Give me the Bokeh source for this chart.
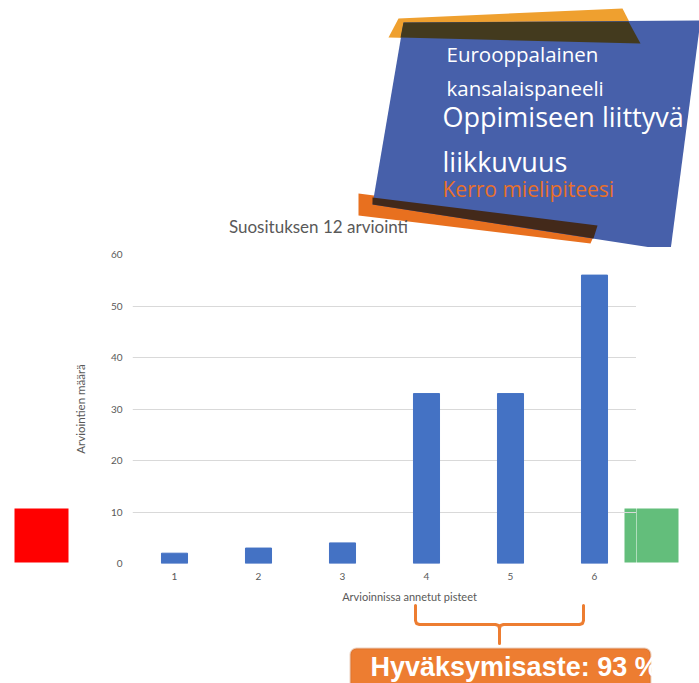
from bokeh.plotting import figure
from bokeh.layouts import column, row
from bokeh.models import BoxAnnotation, Range1d, FactorRange, FixedTicker
from bokeh.core.properties import value
from bokeh.embed import file_html
from bokeh.resources import INLINE

# ---------------- data ----------------
scores = ["1", "2", "3", "4", "5", "6"]
counts = [2, 3, 4, 33, 33, 56]
y_ticks = [0, 10, 20, 30, 40, 50, 60]
chart_title = "Suosituksen 12 arviointi"
x_title = "Arvioinnissa annetut pisteet"
y_title = "Arviointien määrä"
banner_lines = ["Eurooppalainen", "kansalaispaneeli", "Oppimiseen liittyvä", "liikkuvuus"]
banner_sub = "Kerro mielipiteesi"
acceptance = "Hyväksymisaste: 93 %"

FONT = "Lato"
BFONT = "Open Sans"
GREY = "#595959"
BLUE_BANNER = "#4760AA"
ORANGE_TOP = "#EFA02F"
ORANGE_BOT = "#E8701F"
BR = "#ED7D31"

# page regions (pixels)
W, H = 699, 683
TOP_H = 247          # banner + title strip
FRAME_T, FRAME_B = 254, 563   # plot area top / bottom on the page
MID_B = 590
MID_H = MID_B - TOP_H
LEFT_W = 70
RIGHT_W = 63
CHART_W = W - LEFT_W - RIGHT_W
BORDER_T = FRAME_T - TOP_H
BORDER_B = MID_B - FRAME_B


def panel(x0, x1, y0, y1, bt=0, bb=0):
    """A blank figure; data units = page pixels (y down)."""
    f = figure(width=x1 - x0, height=y1 - y0, x_range=Range1d(x0, x1),
               y_range=Range1d(y1 - bb, y0 + bt), output_backend="svg",
               toolbar_location=None, x_axis_type=None, y_axis_type=None,
               min_border=0, min_border_top=bt, min_border_bottom=bb, title=None)
    f.outline_line_color = None
    f.xgrid.visible = False
    f.ygrid.visible = False
    f.background_fill_color = "white"
    return f


def shape(f, pts, color):
    f.patch([a for a, b in pts], [b for a, b in pts], fill_color=color,
            line_color=None)


def txt(f, x, base, s, size, color, font=FONT, align="left", style="normal"):
    # place the text so that its visual baseline lands on `base`
    f.text(x=[x], y=[base - 0.44 * size], text=[s], text_font=value(font),
           text_font_size=value(f"{size}px"), text_color=color, text_align=align,
           text_baseline="alphabetic", text_font_style=style)


# ---------------- banner strip ----------------
top = panel(0, W, 0, TOP_H)
shape(top, [(388, 37), (398, 18), (622, 8), (640, 43)], ORANGE_TOP)
shape(top, [(358, 193), (598, 224), (590, 243), (358, 215)], ORANGE_BOT)
shape(top, [(403, 22), (700, 20), (670, 250), (372, 204)], BLUE_BANNER)
shape(top, [(403, 22), (628, 21), (640, 43), (400, 37)], "#433A1E")
shape(top, [(372, 197), (597, 225), (593, 238), (372, 204)], "#43291A")
txt(top, 446, 63, banner_lines[0], 20.5, "white", font=BFONT)
txt(top, 446, 97, banner_lines[1], 20.5, "white", font=BFONT)
txt(top, 442, 128, banner_lines[2], 27, "white", font=BFONT)
txt(top, 442, 173, banner_lines[3], 27, "white", font=BFONT)
txt(top, 442, 198, banner_sub, 21, "#E8702A", font=BFONT)
txt(top, 318, 233, chart_title, 17, GREY, align="center")

# ---------------- left strip (red square) ----------------
left = panel(0, LEFT_W, TOP_H, MID_B, bt=BORDER_T, bb=BORDER_B)
left.quad(left=[14], right=[68], top=[508], bottom=[562], fill_color="#FF0000",
          line_color=None)

# ---------------- right strip (green square) ----------------
right = panel(LEFT_W + CHART_W, W, TOP_H, MID_B, bt=BORDER_T, bb=BORDER_B)
right.quad(left=[620], right=[678], top=[508], bottom=[562], fill_color="#63BE7B",
           line_color=None)

# ---------------- chart ----------------
p = figure(width=CHART_W, height=MID_H, x_range=FactorRange(*scores, range_padding=0),
           y_range=Range1d(0, 60), output_backend="svg", toolbar_location=None,
           min_border_left=127 - LEFT_W, min_border_right=0, min_border_top=BORDER_T,
           min_border_bottom=BORDER_B, title=None)
p.outline_line_color = None
p.background_fill_color = "white"

# part of the green square that lies inside the plot area (under the grid)
p.add_layout(BoxAnnotation(left=624 - LEFT_W, right=720, top=508 - TOP_H,
                           bottom=562 - TOP_H, left_units="canvas",
                           right_units="canvas", top_units="canvas",
                           bottom_units="canvas", fill_color="#63BE7B",
                           fill_alpha=1, line_color=None, level="image"))

p.vbar(x=scores, top=counts, width=0.31, color="#4472C4")

p.xgrid.grid_line_color = None
p.ygrid.grid_line_color = "#d9d9d9"
p.ygrid.grid_line_width = 1

p.yaxis.ticker = FixedTicker(ticks=y_ticks)
for ax in (p.xaxis[0], p.yaxis[0]):
    ax.axis_line_color = None
    ax.major_tick_line_color = None
    ax.minor_tick_line_color = None
    ax.major_tick_in = 0
    ax.major_tick_out = 0
    ax.major_label_text_font = FONT
    ax.major_label_text_font_size = "10px"
    ax.major_label_text_color = GREY
p.xaxis.major_label_standoff = 9
p.yaxis.major_label_standoff = 10
p.yaxis.axis_label = y_title
p.yaxis.axis_label_text_font = FONT
p.yaxis.axis_label_text_font_size = "11.5px"
p.yaxis.axis_label_text_font_style = "normal"
p.yaxis.axis_label_text_color = GREY
p.yaxis.axis_label_standoff = 21

# ---------------- bottom strip ----------------
bot = panel(0, W, MID_B, H)
txt(bot, 409, 601, x_title, 11, GREY, align="center")
bot.multi_line(
    xs=[[415, 415, 416, 419, 495, 498, 499, 499],
        [499, 500, 503, 579, 582, 583, 583]],
    ys=[[605, 620, 623, 624, 624, 625, 628, 643],
        [628, 625, 624, 624, 623, 620, 605]],
    line_color=BR, line_width=3, line_join="round", line_cap="round")
bot.add_layout(BoxAnnotation(left=350, right=650, top=648, bottom=700,
                             fill_color=BR, fill_alpha=1, line_color="#C0622A",
                             line_width=2, border_radius=6, level="underlay"))
txt(bot, 370, 678, acceptance, 27, "white", font="Liberation Sans", style="bold")
bot.quad(left=[652], right=[700], top=[640], bottom=[700], fill_color="white",
         line_color=None)

layout = column(top, row(left, p, right), bot)
open("out.html", "w").write(file_html(layout, INLINE))
